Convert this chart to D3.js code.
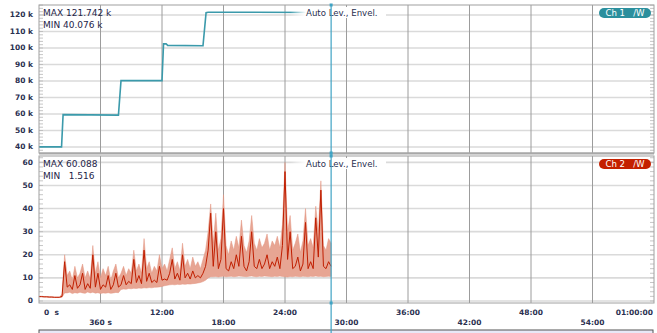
<!DOCTYPE html>
<html>
<head>
<meta charset="utf-8">
<script src="https://cdn.jsdelivr.net/npm/d3@7"></script>
<style>
  body { margin: 0; background: #fff; }
  svg { display: block; font-family: "DejaVu Sans", Verdana, sans-serif; }
  text { white-space: pre; }
</style>
</head>
<body>
<svg id="chart" width="657" height="333"></svg>
<script>
// ---- data ----
// Ch 1: [minutes, value in k]
const ch1Steps = [
  [0, 40.08], [2.2, 40.08], [2.35, 59.6], [7.75, 59.3], [8.0, 80.2],
  [12.0, 80.2], [12.15, 102.5], [12.4, 102.6], [12.55, 101.6], [16.0, 101.4],
  [16.3, 121.4], [16.5, 121.7], [28.5, 121.5]
];

// Ch 2 envelope, one sample every 0.25 min from 0 to 28.5 min
const sampleStep = 0.25;
const ch2Max = [
  2.0, 2.0, 1.9, 1.9, 1.8, 1.8, 1.7, 1.7, 1.7, 3,
  20, 11, 13, 9, 15, 10, 12, 16, 10, 13,
  9.5, 24, 12, 17, 10, 14, 11, 15, 9, 13,
  16, 10, 12, 15, 11, 14, 12, 22, 13, 16,
  12, 27, 14, 17, 12, 15, 13, 20, 14, 16,
  13, 18, 23, 14, 17, 13, 25, 15, 18, 14,
  19, 15, 17, 14, 18, 22, 30, 42, 25, 38,
  22, 27, 46, 24, 20, 26, 22, 28, 23, 35,
  24, 21, 26, 37, 25, 22, 27, 23, 25, 29,
  22, 26, 24, 28, 23, 33, 60, 30, 37, 22,
  25, 29, 21, 26, 40, 24, 27, 23, 41, 30,
  52, 24, 22, 27, 25
];
const ch2Mean = [
  1.9, 1.9, 1.8, 1.8, 1.7, 1.7, 1.6, 1.6, 1.6, 2,
  17, 6, 7, 5, 11, 5.5, 7, 12, 5, 7.5,
  5.5, 20, 6, 12, 5, 7, 6, 11, 5, 7,
  12, 6, 7, 11, 7, 8.5, 7.5, 18, 8, 11,
  7.5, 22, 8.5, 12, 8, 9, 8, 15, 9, 9.5,
  9, 12, 18, 9.5, 12, 9, 20, 10, 12, 9.5,
  13, 10, 11, 10, 12, 15, 22, 38, 15, 30,
  14, 18, 40, 14, 13, 17, 14, 20, 15, 28,
  15, 13, 17, 30, 15, 14, 18, 14, 16, 20,
  14, 17, 15, 19, 14, 24, 56, 18, 30, 14,
  15, 19, 13, 16, 34, 14, 17, 14, 36, 19,
  48, 15, 14, 17, 15
];
const ch2Min = [
  1.8, 1.8, 1.7, 1.7, 1.6, 1.6, 1.5, 1.5, 1.5, 1.6,
  3.5, 3.5, 3.8, 3.2, 3.6, 3.4, 3.8, 3.5, 3.3, 3.9,
  3.5, 3.8, 3.4, 3.6, 3.2, 3.5, 3.4, 3.6, 3.3, 3.5,
  3.7, 3.6, 5.0, 5.2, 5.1, 5.4, 5.3, 5.5, 5.4, 5.6,
  5.5, 5.7, 5.6, 5.8, 5.7, 5.9, 6.0, 6.1, 6.3, 6.6,
  6.8, 7.0, 7.1, 7.0, 7.2, 7.1, 7.3, 7.2, 7.4, 7.3,
  7.5, 7.6, 7.8, 8.0, 8.4, 9.0, 10.0, 10.5, 10.5, 10.6,
  10.4, 10.6, 10.7, 10.5, 10.6, 10.7, 10.5, 10.6, 10.8, 10.7,
  10.6, 10.5, 10.7, 10.8, 10.6, 10.5, 10.7, 10.6, 10.8, 10.7,
  10.6, 10.5, 10.7, 10.6, 10.8, 10.6, 10.5, 10.4, 10.6, 10.5,
  10.7, 10.6, 10.5, 10.7, 10.6, 10.5, 10.7, 10.6, 10.8, 10.6,
  10.7, 10.5, 10.6, 10.7, 10.6
];

const ch1Ticks = [40, 50, 60, 70, 80, 90, 100, 110, 120];
const ch2Ticks = [0, 10, 20, 30, 40, 50, 60];
const timeTicks = [0, 6, 12, 18, 24, 30, 36, 42, 48, 54, 60];
const timeLabels = ["0  s", "360 s", "12:00", "18:00", "24:00", "30:00",
  "36:00", "42:00", "48:00", "54:00", "01:00:00"];
const cursorTime = 28.5;

// ---- layout ----
const svg = d3.select("#chart");
const left = 39, right = 654;
const x = d3.scaleLinear().domain([0, 60]).range([left, right]);

const panels = [
  { top: 5, bottom: 153, y: d3.scaleLinear().domain([36.36, 126.06]).range([153, 5]),
    ticks: ch1Ticks, minor: 2, fmt: (d) => d + " k",
    max: "MAX 121.742 k", min: "MIN 40.076 k", badge: "Ch 1   /W", color: "#2b8f9d" },
  { top: 156, bottom: 303, y: d3.scaleLinear().domain([-0.87, 62.75]).range([303, 156]),
    ticks: ch2Ticks, minor: 2, fmt: (d) => d,
    max: "MAX 60.088", min: "MIN   1.516", badge: "Ch 2   /W", color: "#c42000" }
];

const defs = svg.append("defs");
const fade = defs.append("linearGradient").attr("id", "fade");
fade.append("stop").attr("offset", "0%").attr("stop-color", "#fff").attr("stop-opacity", 0);
fade.append("stop").attr("offset", "100%").attr("stop-color", "#fff").attr("stop-opacity", 1);

panels.forEach((p, k) => {
  const g = svg.append("g");
  const [d0, d1] = p.y.domain();

  // horizontal grid
  g.selectAll(".hg").data(p.ticks).enter().append("line")
    .attr("x1", left).attr("x2", right)
    .attr("y1", (d) => p.y(d)).attr("y2", (d) => p.y(d))
    .attr("stroke", "#dadada").attr("stroke-width", 1.6);

  // vertical grid
  g.selectAll(".vg").data(timeTicks.slice(1, -1)).enter().append("line")
    .attr("x1", (d) => x(d)).attr("x2", (d) => x(d))
    .attr("y1", p.top).attr("y2", p.bottom)
    .attr("stroke", "#9c9c9c").attr("stroke-width", 1);

  // minor ticks on both edges
  const minors = d3.range(Math.ceil(d0 / p.minor) * p.minor, d1, p.minor);
  [[left, 4], [right, -4]].forEach(([ex, len]) => {
    g.selectAll(null).data(minors).enter().append("line")
      .attr("x1", ex).attr("x2", ex + len)
      .attr("y1", (d) => p.y(d)).attr("y2", (d) => p.y(d))
      .attr("stroke", "#b8b8b8").attr("stroke-width", 0.8);
  });

  // tick labels
  g.selectAll(".yl").data(p.ticks).enter().append("text")
    .attr("x", 33).attr("y", (d) => p.y(d) + 2.5)
    .attr("text-anchor", "end").attr("font-size", 7.5).attr("font-weight", "bold")
    .attr("fill", "#2a2f50").text(p.fmt);

  // traces
  if (k === 0) {
    g.append("path").datum(ch1Steps)
      .attr("fill", "none").attr("stroke", "#3b9aab").attr("stroke-width", 1.6)
      .attr("d", d3.line().x((d) => x(d[0])).y((d) => p.y(d[1])));
  } else {
    const idx = d3.range(ch2Max.length);
    g.append("path").datum(idx)
      .attr("fill", "#e7a593").attr("stroke", "#e29580").attr("stroke-width", 0.5)
      .attr("d", d3.area().x((i) => x(i * sampleStep))
        .y0((i) => p.y(ch2Min[i])).y1((i) => p.y(ch2Max[i])));
    g.append("path").datum(idx)
      .attr("fill", "none").attr("stroke", "#c01e00").attr("stroke-width", 1)
      .attr("d", d3.line().x((i) => x(i * sampleStep)).y((i) => p.y(ch2Mean[i])));
  }

  // border
  g.append("rect").attr("x", left).attr("y", p.top)
    .attr("width", right - left).attr("height", p.bottom - p.top)
    .attr("fill", "none").attr("stroke", "#a0a0a0").attr("stroke-width", 1);

  // header texts
  g.append("rect").attr("x", 290).attr("y", p.top + 2).attr("width", 16).attr("height", 11)
    .attr("fill", "url(#fade)");
  g.append("rect").attr("x", 306).attr("y", p.top + 2).attr("width", 80).attr("height", 11)
    .attr("fill", "#fff");
  g.append("text").attr("x", 306).attr("y", p.top + 11)
    .attr("font-size", 8.6).attr("fill", "#2a2f50").text("Auto Lev., Envel.");
  g.append("text").attr("x", 43).attr("y", p.top + 11)
    .attr("font-size", 9).attr("fill", "#1e2448").text(p.max);
  g.append("text").attr("x", 43).attr("y", p.top + 23)
    .attr("font-size", 9).attr("fill", "#1e2448").text(p.min);

  // channel badge
  g.append("rect").attr("x", 599).attr("y", p.top + 3).attr("width", 52).attr("height", 10)
    .attr("rx", 5).attr("fill", p.color);
  g.append("text").attr("x", 625).attr("y", p.top + 11.2).attr("text-anchor", "middle")
    .attr("font-size", 8.6).attr("fill", "#fff").text(p.badge);
});

// separator between panels
svg.append("rect").attr("x", left).attr("y", 152.5).attr("width", right - left).attr("height", 2)
  .attr("fill", "#a8a8a8");

// time axis labels, alternating rows
svg.selectAll(".xl").data(timeTicks).enter().append("text")
  .attr("x", (d, i) => i === 0 ? 44 : (i === timeTicks.length - 1 ? 653 : x(d)))
  .attr("y", (d, i) => i % 2 === 0 ? 315 : 324.5)
  .attr("text-anchor", (d, i) => i === 0 ? "start" : (i === timeTicks.length - 1 ? "end" : "middle"))
  .attr("font-size", 7.5).attr("font-weight", "bold").attr("fill", "#2a2f50")
  .text((d, i) => timeLabels[i]);

// bottom overview strip
svg.append("rect").attr("x", left).attr("y", 330).attr("width", right - left - 1).attr("height", 10)
  .attr("fill", "#e8e8f7").attr("stroke", "#555").attr("stroke-width", 1);

// cursor
const cx = x(cursorTime);
svg.append("line").attr("x1", cx).attr("x2", cx).attr("y1", 5).attr("y2", 333)
  .attr("stroke", "#3fa3c4").attr("stroke-width", 1.2);
[5, 153, 156, 303].forEach((yy) => {
  svg.append("rect").attr("x", cx - 1.5).attr("y", yy - 1.5).attr("width", 3).attr("height", 3)
    .attr("fill", "#3fa3c4");
});
</script>
</body>
</html>
